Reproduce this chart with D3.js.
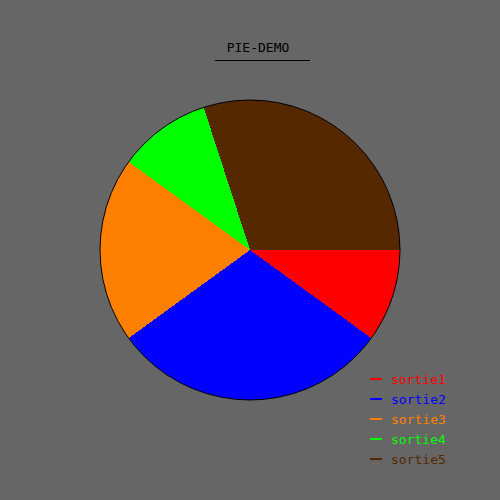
<!DOCTYPE html>
<html>
<head>
<meta charset="utf-8">
<script src="https://cdn.jsdelivr.net/npm/d3@7"></script>
<style>
  body { margin: 0; background: #666666; }
  text { font-family: "DejaVu Sans Mono", monospace; }
</style>
</head>
<body>
<div id="container"></div>
<script>
const title = "PIE-DEMO";
const labels = ["sortie1", "sortie2", "sortie3", "sortie4", "sortie5"];
const values = [10, 30, 20, 10, 30];
const colors = ["#ff0000", "#0000ff", "#ff8000", "#00ff00", "#552800"];

const width = 500, height = 500;
const svg = d3.select("#container")
  .append("svg")
  .attr("width", width)
  .attr("height", height)
  .style("background", "#666666");

// title with underline
svg.append("text")
  .attr("x", 258)
  .attr("y", 52)
  .attr("text-anchor", "middle")
  .attr("font-size", 13)
  .attr("fill", "#000")
  .text(title);
svg.append("line")
  .attr("x1", 215).attr("x2", 310)
  .attr("y1", 60).attr("y2", 60)
  .attr("stroke", "#000")
  .attr("stroke-width", 1)
  .attr("shape-rendering", "crispEdges");

// pie, starting at 3 o'clock going clockwise
const radius = 150;
const pie = d3.pie().sort(null)
  .startAngle(Math.PI / 2)
  .endAngle(Math.PI / 2 + 2 * Math.PI);
const arc = d3.arc().innerRadius(0).outerRadius(radius);

const g = svg.append("g").attr("transform", "translate(250,250)");
g.selectAll("path")
  .data(pie(values))
  .join("path")
  .attr("d", arc)
  .attr("fill", (d, i) => colors[i])
  .attr("shape-rendering", "crispEdges");
g.append("circle")
  .attr("r", radius)
  .attr("fill", "none")
  .attr("stroke", "#000")
  .attr("stroke-width", 1);

// legend
const y = d3.scaleBand().domain(labels).range([369, 469]);
const legend = svg.append("g");
const item = legend.selectAll("g")
  .data(labels)
  .join("g")
  .attr("transform", d => `translate(0,${y(d) + y.bandwidth() / 2})`);
item.append("line")
  .attr("x1", 370).attr("x2", 382)
  .attr("y1", 0).attr("y2", 0)
  .attr("stroke", (d, i) => colors[i])
  .attr("stroke-width", 1.5)
  .attr("shape-rendering", "crispEdges");
item.append("text")
  .attr("x", 391)
  .attr("y", 5)
  .attr("font-size", 13)
  .attr("fill", (d, i) => colors[i])
  .text(d => d);
</script>
</body>
</html>
